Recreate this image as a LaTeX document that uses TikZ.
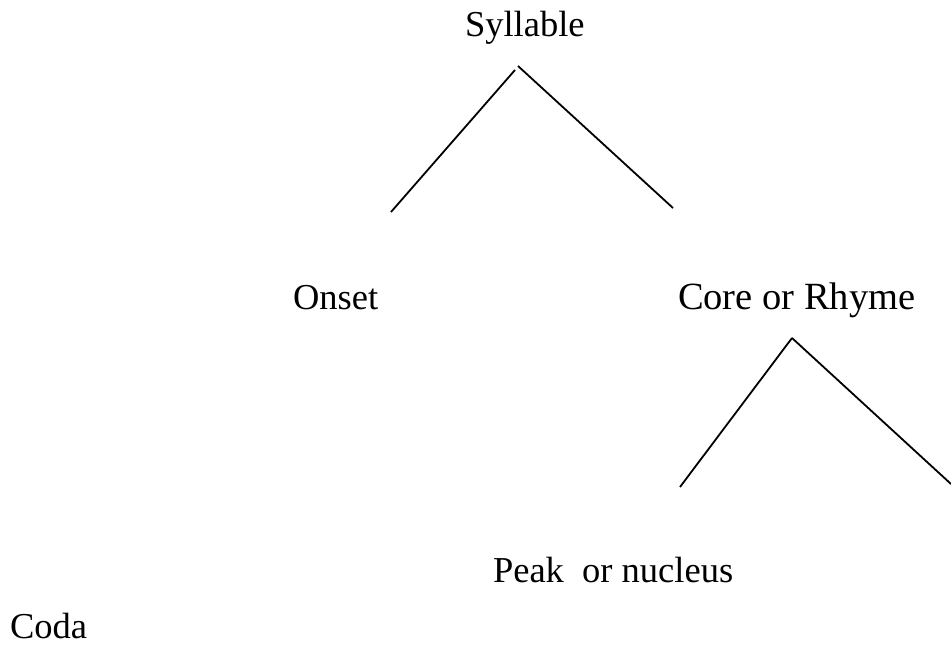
\documentclass[tikz,border=0pt]{standalone}
\usepackage{fontspec}
\setmainfont{Liberation Serif}
\begin{document}
\begin{tikzpicture}[x=1pt,y=-1pt,
  lbl/.style={anchor=base west,inner sep=0pt,outer sep=0pt,font=\fontsize{36.5}{42}\selectfont},
  branch/.style={line width=1.8pt,black}]
\useasboundingbox (0,0) rectangle (951,650);
\node[lbl] (syl) at (465,37) {Syllable};
\node[lbl] (ons) at (293,309) {Onset};
\node[lbl] (core) at (678,309) {\fontsize{38.5}{44}\selectfont Core or Rhyme};
\node[lbl] (peak) at (493,582) {Peak\ \ or nucleus};
\node[lbl] (coda) at (10,638) {Coda};
\coordinate (a1) at (515,70);
\coordinate (a2) at (518,66);
\coordinate (b1) at (391,212);
\coordinate (b2) at (673,208);
\coordinate (c) at (792,338);
\coordinate (d1) at (680,487);
\coordinate (d2) at (951,484);
\draw[branch] (a1) -- (b1);
\draw[branch] (a2) -- (b2);
\draw[branch] (c) -- (d1);
\draw[branch] (c) -- (d2);
\end{tikzpicture}
\end{document}
